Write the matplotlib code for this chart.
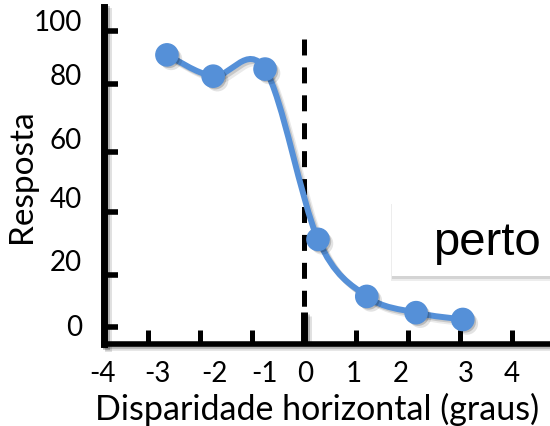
import matplotlib
matplotlib.use("Agg")
import matplotlib.pyplot as plt
import matplotlib.patheffects as pe
from matplotlib.path import Path
from matplotlib.patches import PathPatch, Rectangle

# values
disp = [-2.64, -1.75, -0.75, 0.27, 1.21, 2.16, 3.06]
resp = [91.9, 84.7, 87.1, 29.5, 10.2, 4.7, 2.4]

x_ticks = [-3, -2, -1, 0, 1, 2, 3, 4]
x_labels = ["-4", "-3", "-2", "-1", "0", "1", "2", "3", "4"]
x_label_at = [-3.89, -2.83, -1.73, -0.77, 0.02, 0.96, 1.87, 3.12, 4.01]
y_ticks = [0, 17.6, 38.6, 59.0, 82.0, 100]
y_labels = ["0", "20", "40", "60", "80", "100"]
y_label_at = [0, 22, 43, 63, 84.7, 103]

blue = "#5590d8"
W, H = 550, 427


def shadow(alpha=0.16):
    # soft-ish drop shadow: two offset layers
    return [pe.SimpleLineShadow(offset=(1.5, -1.5), shadow_color="k", alpha=alpha),
            pe.SimpleLineShadow(offset=(3, -3), shadow_color="k", alpha=alpha * 0.6),
            pe.Normal()]


def fill_shadow(alpha=0.16):
    return [pe.SimplePatchShadow(offset=(1.5, -1.5), shadow_rgbFace="k", alpha=alpha),
            pe.SimplePatchShadow(offset=(3, -3), shadow_rgbFace="k", alpha=alpha * 0.6),
            pe.Normal()]


def smooth_path(xs, ys):
    # Excel-style smoothed line as cubic Bezier segments
    pts = list(zip(xs, ys))
    n = len(pts)
    verts = [pts[0]]
    codes = [Path.MOVETO]
    for i in range(n - 1):
        p0 = pts[max(i - 1, 0)]
        p1 = pts[i]
        p2 = pts[i + 1]
        p3 = pts[min(i + 2, n - 1)]
        c1 = (p1[0] + (p2[0] - p0[0]) / 6, p1[1] + (p2[1] - p0[1]) / 6)
        c2 = (p2[0] - (p3[0] - p1[0]) / 6, p2[1] - (p3[1] - p1[1]) / 6)
        verts += [c1, c2, p2]
        codes += [Path.CURVE4] * 3
    return Path(verts, codes)


plt.rcParams["lines.scale_dashes"] = False
fig = plt.figure(figsize=(5.5, 4.27), dpi=100)
ax = fig.add_axes([104 / W, (H - 345) / H, (W - 104) / W, (345 - 8) / H])
ax.set_xlim(-3.853, 4.74)
ax.set_ylim(-5.9, 108.1)

for side in ["top", "right"]:
    ax.spines[side].set_visible(False)
ax.spines["left"].set_linewidth(5)
ax.spines["bottom"].set_linewidth(4)
for side in ["left", "bottom"]:
    ax.spines[side].set_path_effects(shadow(0.2))

ax.set_xticks(x_ticks)
ax.set_yticks(y_ticks)
ax.tick_params(axis="x", direction="in", length=10, width=3.6, labelbottom=False)
ax.tick_params(axis="y", direction="in", length=10, width=4, labelleft=False)
for t in ax.xaxis.get_major_ticks() + ax.yaxis.get_major_ticks():
    t.tick1line.set_path_effects(fill_shadow(0.2))

for lab, xv in zip(x_labels, x_label_at):
    ax.annotate(lab, xy=(xv, 0), xycoords=("data", "axes fraction"),
                xytext=(0, -21), textcoords="offset points",
                ha="center", va="center", fontsize=20, family="Lato",
                annotation_clip=False)
for lab, yv in zip(y_labels, y_label_at):
    ax.annotate(lab, xy=(0, yv), xycoords=("axes fraction", "data"),
                xytext=(-16, 0), textcoords="offset points",
                ha="right", va="center", fontsize=20, family="Lato",
                annotation_clip=False)

# vertical dashed line at zero and the tall zero tick
ax.plot([0, 0], [97.3, -5.9], color="k", lw=3.6, dashes=(11.5, 8.6),
        solid_capstyle="butt", zorder=2)
ax.plot([0, 0], [-5.9, 4.9], color="k", lw=5, solid_capstyle="butt",
        zorder=2, path_effects=shadow(0.2))

curve = PathPatch(smooth_path(disp, resp), fill=False, edgecolor=blue,
                  lw=4.3, zorder=3, path_effects=shadow(0.14))
ax.add_patch(curve)
ax.plot(disp, resp, "o", color=blue, ms=16, zorder=4,
        path_effects=fill_shadow(0.18))

box = Rectangle((392 / W, (H - 277) / H), (560 - 392) / W, 77 / H,
                transform=fig.transFigure, facecolor="white", edgecolor="none",
                zorder=10,
                path_effects=[pe.SimplePatchShadow(offset=(0, -2), shadow_rgbFace="k", alpha=0.1),
                              pe.SimplePatchShadow(offset=(-0.5, -3.5), shadow_rgbFace="k", alpha=0.07),
                              pe.Normal()])
fig.add_artist(box)
fig.text(433 / W, (H - 255) / H, "perto", fontsize=34, family="Liberation Sans",
         ha="left", va="baseline", zorder=11)

fig.text(22 / W, (H - 176) / H, "Resposta", rotation=90, fontsize=24,
         family="Lato", ha="center", va="center")
fig.text(317 / W, (H - 420) / H, "Disparidade horizontal (graus)", fontsize=24.5,
         family="Lato", ha="center", va="baseline")

fig.savefig("out.png", dpi=100)
